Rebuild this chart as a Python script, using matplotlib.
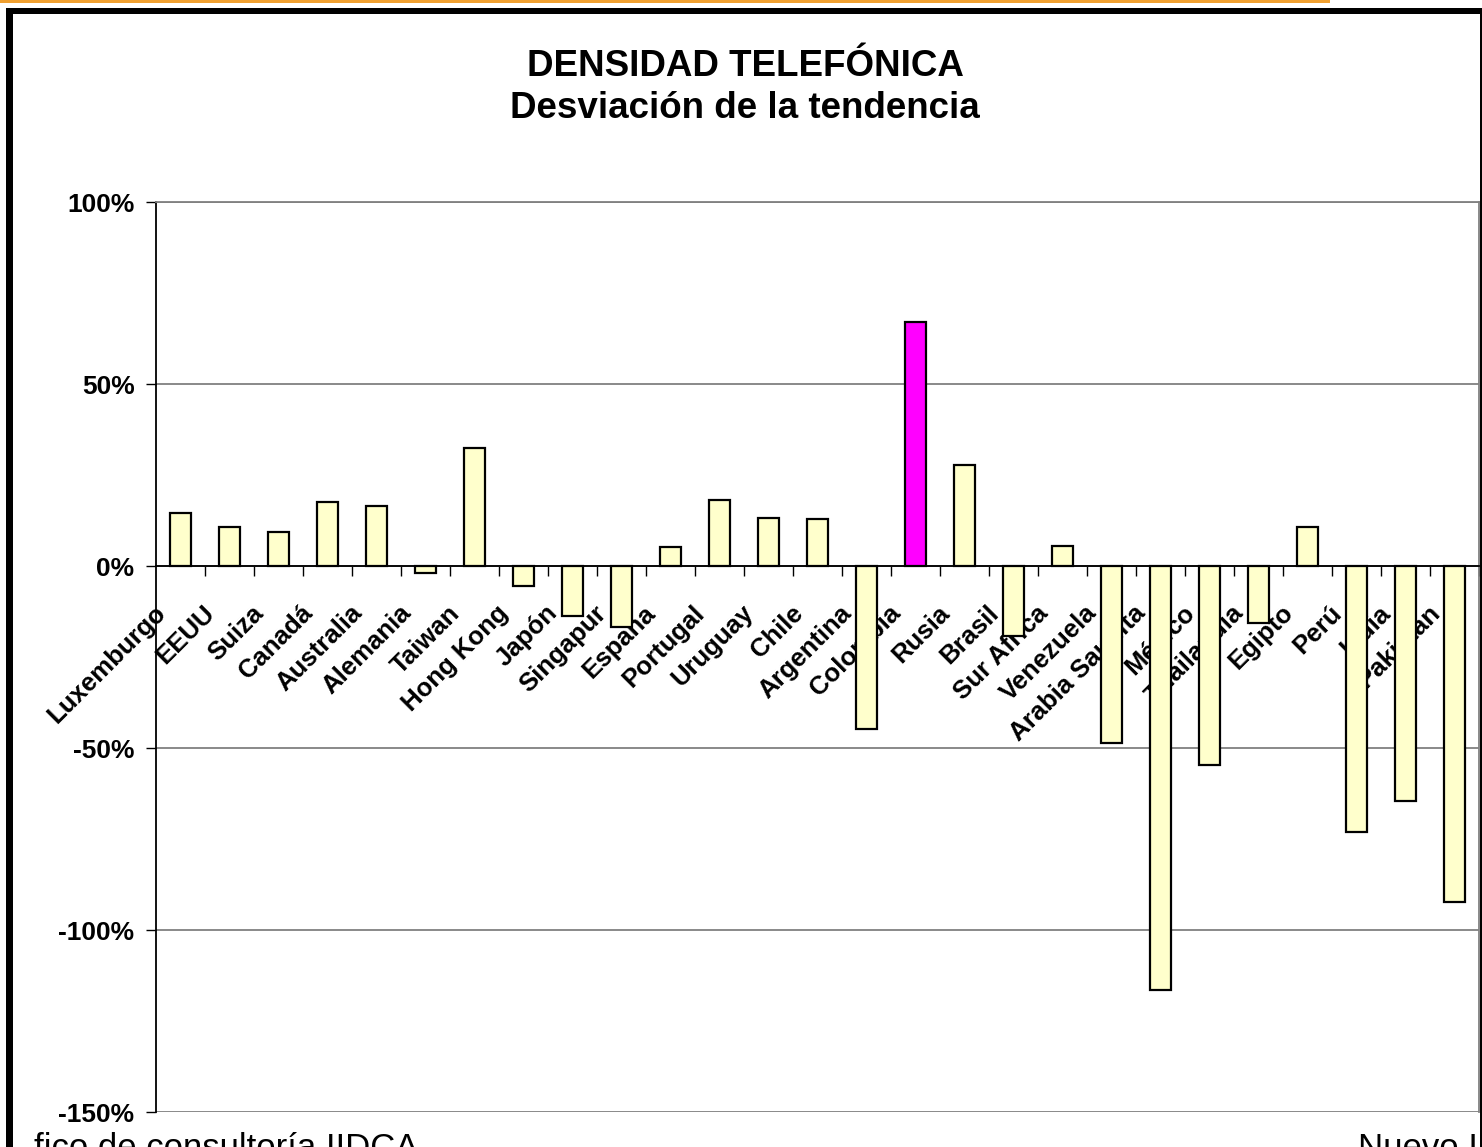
import matplotlib
matplotlib.use("Agg")
import matplotlib.pyplot as plt
import matplotlib.transforms as mtransforms
from matplotlib.patches import Rectangle

plt.rcParams['font.family'] = ['Liberation Sans', 'DejaVu Sans']

paises = ['Luxemburgo', 'EEUU', 'Suiza', 'Canadá', 'Australia', 'Alemania',
          'Taiwan', 'Hong Kong', 'Japón', 'Singapur', 'España', 'Portugal',
          'Uruguay', 'Chile', 'Argentina', 'Colombia', 'Rusia', 'Brasil',
          'Sur Africa', 'Venezuela', 'Arabia Saudita', 'México', 'Thailandia',
          'Egipto', 'Perú', 'India', 'Pakistan']
desviacion = [14.6, 10.6, 9.3, 17.5, 16.4, -1.9,
              32.4, -5.6, -13.7, -16.8, 5.2, 18.1,
              13.1, 12.9, -44.9, 67.0, 27.7, -19.3,
              5.6, -48.7, -116.5, -54.7, -15.7,
              10.8, -73.1, -64.5, -92.2]
destacado = 'Colombia'

y_ticks = [-150, -100, -50, 0, 50, 100]
y_labels = ['-150%', '-100%', '-50%', '0%', '50%', '100%']

W, H = 1482, 1147
fig = plt.figure(figsize=(W / 100, H / 100), dpi=100)
fig.patch.set_facecolor('white')

ax = fig.add_axes([156 / W, 1 - 1112 / H, (1479 - 156) / W, (1112 - 202) / H])

x = list(range(len(paises)))
colores = ['#FF00FF' if p == destacado else '#FFFFCC' for p in paises]
ax.bar(x, desviacion, width=0.43, color=colores, edgecolor='black',
       linewidth=1.6, zorder=3)

ax.set_xlim(-0.5, len(paises) - 0.5)
ax.set_ylim(-150, 100)

ax.set_yticks(y_ticks)
ax.set_yticklabels(y_labels, fontsize=19, fontweight='bold')
ax.yaxis.grid(True, color='#808080', linewidth=1.3, zorder=0)
ax.tick_params(axis='y', direction='out', length=7, width=1, pad=8.5)

ax.spines['bottom'].set_position(('data', 0))
ax.spines['bottom'].set_linewidth(1.3)
ax.spines['bottom'].set_zorder(4)
ax.spines['left'].set_linewidth(1.3)
for s in ['top', 'right']:
    ax.spines[s].set_color('#808080')
    ax.spines[s].set_linewidth(1.3)

ax.set_xticks(x)
ax.set_xticks([i + 0.5 for i in range(len(paises))], minor=True)
ax.tick_params(axis='x', which='major', length=0, pad=25)
ax.tick_params(axis='x', which='minor', direction='out', length=7, width=1)
ax.set_xticklabels(paises, rotation=45, ha='right', va='top',
                   fontsize=18.5, fontweight='bold')
desplaza = mtransforms.ScaledTranslation(-10 / 100, 0, fig.dpi_scale_trans)
for lbl in ax.get_xticklabels():
    lbl.set_transform(lbl.get_transform() + desplaza)

fig.text(745 / W, 1 - 67 / H, 'DENSIDAD TELEFÓNICA', ha='center', va='center',
         fontsize=26.5, fontweight='bold')
fig.text(745 / W, 1 - 108 / H, 'Desviación de la tendencia', ha='center',
         va='center', fontsize=26.5, fontweight='bold')

# pie de la diapositiva, cortado por el borde inferior como en el original
fig.text(34 / W, 1 - 1158 / H, 'fico de consultoría IIDCA', fontsize=25,
         ha='left', va='baseline')
fig.text(1358 / W, 1 - 1158 / H, 'Nuevo I', fontsize=25,
         ha='left', va='baseline')

# marco de la diapositiva
fig.add_artist(Rectangle((0, 1 - 3 / H), 1330 / W, 3 / H,
                         transform=fig.transFigure, color='#F0A030', lw=0))
fig.add_artist(Rectangle((6 / W, 1 - 14 / H), 1 - 6 / W, 6 / H,
                         transform=fig.transFigure, color='black', lw=0))
fig.add_artist(Rectangle((6 / W, 0), 7 / W, 1 - 8 / H,
                         transform=fig.transFigure, color='black', lw=0))
fig.add_artist(Rectangle((1 - 2 / W, 0), 2 / W, 1 - 8 / H,
                         transform=fig.transFigure, color='black', lw=0))

fig.savefig('out.png', dpi=100)
